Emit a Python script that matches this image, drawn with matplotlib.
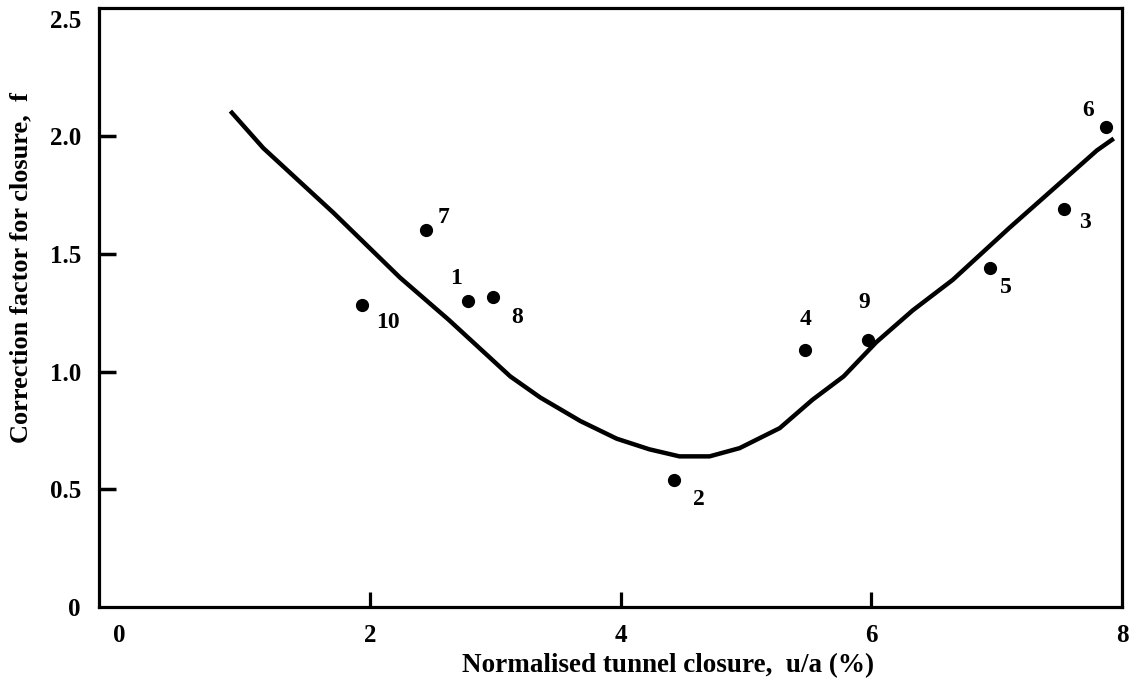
import matplotlib.pyplot as plt

# measured points (case number, closure %, correction factor)
case_ids = ["1", "2", "3", "4", "5", "6", "7", "8", "9", "10"]
closure = [2.78, 4.43, 7.54, 5.47, 6.95, 7.87, 2.45, 2.98, 5.97, 1.94]
factor = [1.30, 0.54, 1.69, 1.09, 1.44, 2.04, 1.60, 1.315, 1.135, 1.285]

# label offsets in pixels (dx, dy)
label_dx = [-12, 24, 21, 1, 16, -18, 17, 24, -3, 26]
label_dy = [23, -20, -13, 31, -19, 16, 13, -20, 37, -18]

# fitted trend curve
curve_x = [0.90, 1.15, 1.71, 2.24, 2.63, 3.12, 3.36, 3.68, 3.97, 4.23, 4.47,
           4.71, 4.95, 5.27, 5.53, 5.78, 6.04, 6.33, 6.65, 7.10, 7.80, 7.92]
curve_y = [2.10, 1.95, 1.675, 1.40, 1.22, 0.98, 0.89, 0.79, 0.715, 0.67, 0.64,
           0.64, 0.675, 0.76, 0.88, 0.98, 1.125, 1.26, 1.39, 1.61, 1.94, 1.985]

xticks = [0, 2, 4, 6, 8]
yticks = [0, 0.5, 1.0, 1.5, 2.0, 2.5]
ytick_labels = ["0", "0.5", "1.0", "1.5", "2.0", "2.5"]

plt.rcParams["font.family"] = ["Liberation Serif", "DejaVu Serif"]
plt.rcParams["font.weight"] = "bold"

fig = plt.figure(figsize=(11.36, 6.85), dpi=100)
ax = fig.add_axes([99 / 1136, 78 / 685, 1023 / 1136, 599 / 685])

ax.plot(curve_x, curve_y, color="black", lw=3.2, solid_joinstyle="round")
ax.plot(closure, factor, "o", color="black", ms=8.5)

for cid, x, y, dx, dy in zip(case_ids, closure, factor, label_dx, label_dy):
    ax.annotate(cid, (x, y), xytext=(dx, dy), textcoords="offset pixels",
                ha="center", va="center", fontsize=17, fontweight="bold")

ax.set_xlim(-0.16, 8.0)
ax.set_ylim(0.0, 2.545)
ax.set_xticks(xticks)
ax.set_xticklabels([str(t) for t in xticks])
ax.set_yticks(yticks)
ax.set_yticklabels(ytick_labels)

for side in ["left", "right", "top", "bottom"]:
    ax.spines[side].set_linewidth(2.3)

ax.tick_params(axis="x", direction="in", length=11, width=2.3, pad=12, labelsize=18)
ax.tick_params(axis="y", direction="in", length=12, width=2.5, pad=13, labelsize=18)

# no marks where ticks sit on the frame
ax.xaxis.get_major_ticks()[0].tick1line.set_visible(False)
ax.xaxis.get_major_ticks()[-1].tick1line.set_visible(False)
ax.yaxis.get_major_ticks()[0].tick1line.set_visible(False)
ax.yaxis.get_major_ticks()[-1].tick1line.set_visible(False)

fig.text(668 / 1136, 1 - 666 / 685, "Normalised tunnel closure,  u/a (%)",
         ha="center", va="center", fontsize=19.5, fontweight="bold")
fig.text(21 / 1136, 1 - 268 / 685, "Correction factor for closure,  f",
         ha="center", va="center", rotation=90, fontsize=19, fontweight="bold")

fig.savefig("out.png", dpi=100)
